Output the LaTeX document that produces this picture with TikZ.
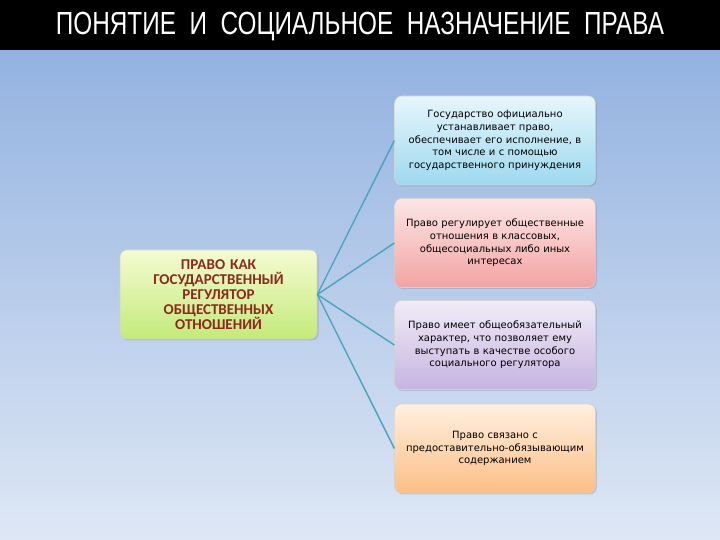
\documentclass[tikz,border=0pt]{standalone}
\usepackage{fontspec}
\setmainfont{DejaVu Sans}
\newfontfamily\titlefont[FakeStretch=0.76]{Liberation Sans}
\newfontfamily\headfont{Carlito}
\usetikzlibrary{shadows}

\definecolor{bgtop}{HTML}{93B2E0}
\definecolor{bgbot}{HTML}{DEE7F5}
\definecolor{linkcol}{HTML}{4BA3BF}
\definecolor{headred}{HTML}{8B2A1D}
\definecolor{greentop}{HTML}{F4FBD2}
\definecolor{greenbot}{HTML}{C4EA7A}
\definecolor{bluetop}{HTML}{E6F6FC}
\definecolor{bluebot}{HTML}{9ED9EF}
\definecolor{redtop}{HTML}{FDE6E6}
\definecolor{redbot}{HTML}{F3A3A3}
\definecolor{violettop}{HTML}{F1EBF8}
\definecolor{violetbot}{HTML}{C5B5E0}
\definecolor{orangetop}{HTML}{FFF0E0}
\definecolor{orangebot}{HTML}{FCBE86}

\tikzset{
  box/.style={draw=gray!35, line width=.6pt, rounded corners=7pt,
    minimum width=198pt, minimum height=89pt, text width=194pt, align=center,
    font=\fontsize{10}{12.6}\selectfont,
    drop shadow={opacity=.3, shadow xshift=1.5pt, shadow yshift=-1.5pt}},
  link/.style={draw=linkcol, line width=1.4pt}
}

\begin{document}
\begin{tikzpicture}[x=1pt,y=1pt]
   \useasboundingbox (0,0) rectangle (720,540);
   \shade[top color=bgtop, bottom color=bgbot] (0,0) rectangle (720,490);
   \fill[black] (0,490) rectangle (720,540);
   \node[text=white, font=\titlefont\fontsize{32}{32}\selectfont] (title) at (360,513)
     {ПОНЯТИЕ \ И \ СОЦИАЛЬНОЕ \ НАЗНАЧЕНИЕ \ ПРАВА};

   \node[box, minimum width=197pt, text width=190pt, top color=greentop, bottom color=greenbot,
     font=\headfont\bfseries\fontsize{15}{15}\selectfont, text=headred] (law) at (218.5,245.5)
     {ПРАВО КАК\\ГОСУДАРСТВЕННЫЙ\\РЕГУЛЯТОР\\ОБЩЕСТВЕННЫХ\\ОТНОШЕНИЙ};

   \node[box, top color=bluetop, bottom color=bluebot] (state) at (495,399.5)
     {Государство официально\\устанавливает право,\\обеспечивает его исполнение, в\\том числе и с помощью\\государственного принуждения};
   \node[box, top color=redtop, bottom color=redbot] (regul) at (495,297)
     {Право регулирует общественные\\отношения в классовых,\\общесоциальных либо иных\\интересах};
   \node[box, top color=violettop, bottom color=violetbot] (oblig) at (495,195)
     {Право имеет общеобязательный\\характер, что позволяет ему\\выступать в качестве особого\\социального регулятора};
   \node[box, top color=orangetop, bottom color=orangebot] (content) at (495,91.5)
     {Право связано с\\предоставительно-обязывающим\\содержанием};

   \draw[link] (law.east) -- (state.west);
   \draw[link] (law.east) -- (regul.west);
   \draw[link] (law.east) -- (oblig.west);
   \draw[link] (law.east) -- (content.west);
\end{tikzpicture}
\end{document}
